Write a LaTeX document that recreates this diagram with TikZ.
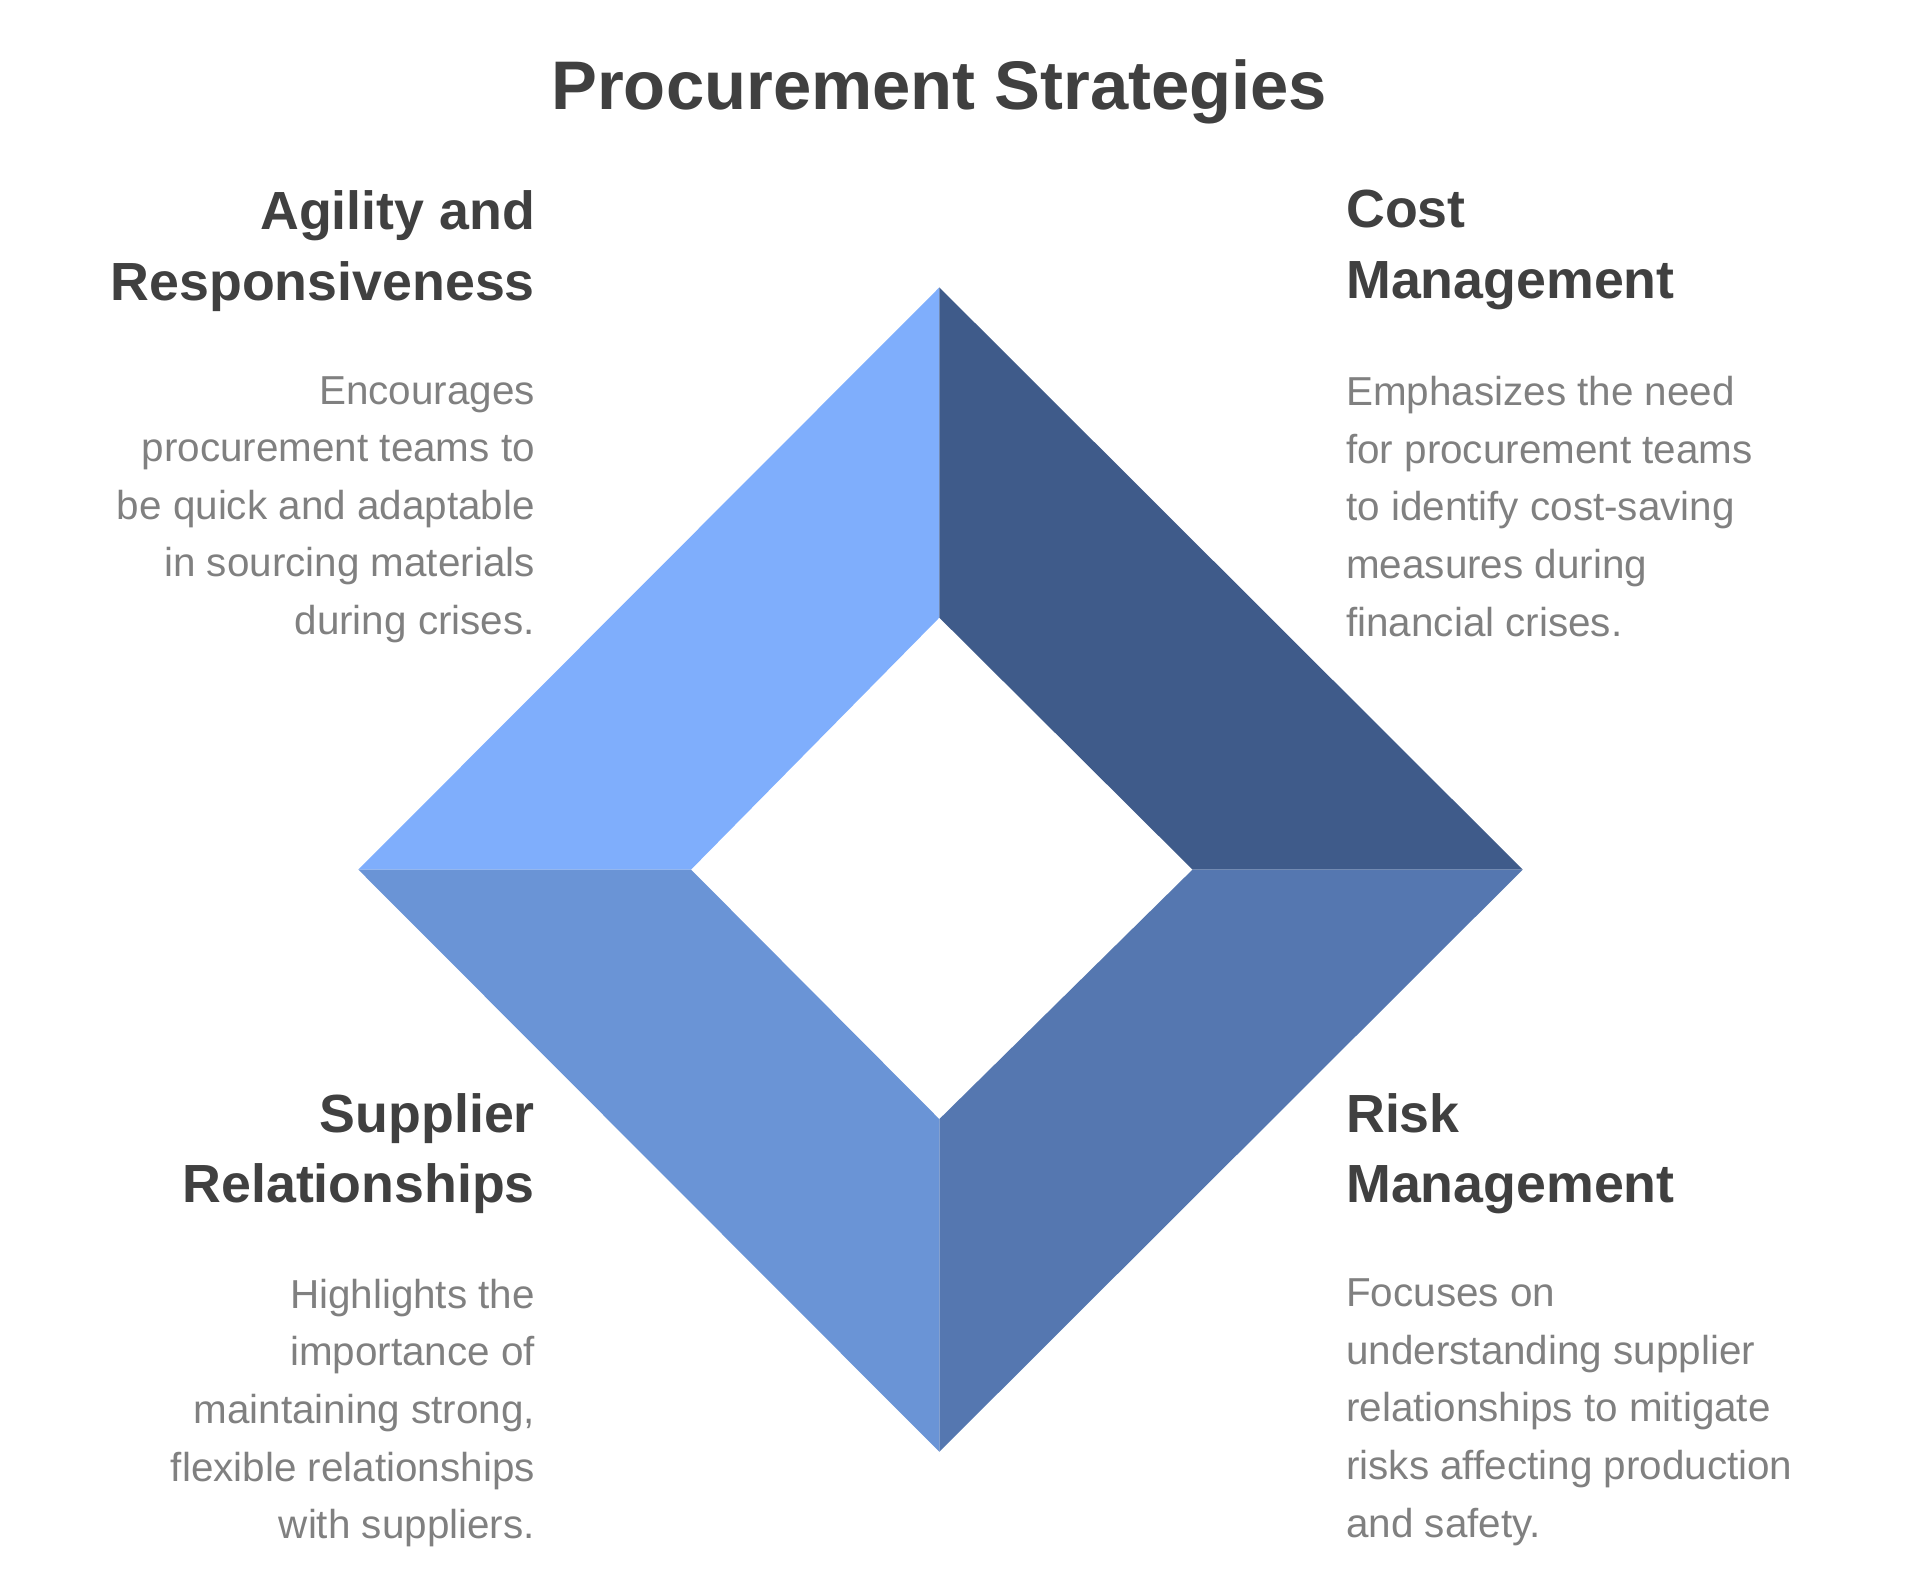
\documentclass[tikz,border=0pt]{standalone}
\usepackage{fontspec}
\setmainfont{Liberation Sans}
\begin{document}
\begin{tikzpicture}[x=0.1mm,y=-0.1mm,
 head/.style={font=\fontsize{12.5}{16.5}\selectfont\bfseries,text=black!75,inner sep=0},
 body/.style={font=\fontsize{9.4}{13.4}\selectfont,text=black!50,inner sep=0}]
\useasboundingbox (0,0) rectangle (1560,1296);
\coordinate (T) at (768,235); \coordinate (R) at (1245,711);
\coordinate (B) at (768,1187); \coordinate (L) at (293,711);
\coordinate (t) at (768,505); \coordinate (r) at (975,711);
\coordinate (b) at (768,915); \coordinate (l) at (565,711);
\definecolor{c1}{HTML}{7FAEFC}\definecolor{c2}{HTML}{3F5B8A}
\definecolor{c3}{HTML}{5577B0}\definecolor{c4}{HTML}{6A94D6}
\fill[c1] (L)--(T)--(t)--(l)--cycle;
\fill[c2] (T)--(R)--(r)--(t)--cycle;
\fill[c3] (R)--(B)--(b)--(r)--cycle;
\fill[c4] (B)--(L)--(l)--(b)--cycle;
\node[font=\fontsize{16}{20}\selectfont\bfseries,text=black!75] (title) at (768,75) {Procurement Strategies};
\node[head,anchor=north east,align=right] (h1) at (438,155) {Agility and\\Responsiveness};
\node[body,anchor=north east,align=right] (b1) at (438,307) {Encourages\\procurement teams to\\be quick and adaptable\\in sourcing materials\\during crises.};
\node[head,anchor=north west,align=left] (h2) at (1100,155) {Cost\\Management};
\node[body,anchor=north west,align=left] (b2) at (1100,307) {Emphasizes the need\\for procurement teams\\to identify cost-saving\\measures during\\financial crises.};
\node[head,anchor=north east,align=right] (h3) at (438,893) {Supplier\\Relationships};
\node[body,anchor=north east,align=right] (b3) at (438,1045) {Highlights the\\importance of\\maintaining strong,\\flexible relationships\\with suppliers.};
\node[head,anchor=north west,align=left] (h4) at (1100,893) {Risk\\Management};
\node[body,anchor=north west,align=left] (b4) at (1100,1045) {Focuses on\\understanding supplier\\relationships to mitigate\\risks affecting production\\and safety.};
\end{tikzpicture}
\end{document}
